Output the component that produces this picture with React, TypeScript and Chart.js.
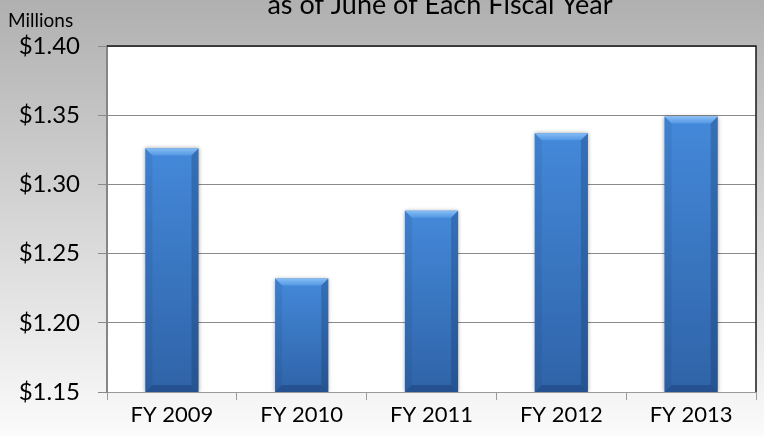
import React, { useEffect, useRef } from 'react';
import { Chart, registerables } from 'chart.js';

Chart.register(...registerables);

const categories = ['FY 2009', 'FY 2010', 'FY 2011', 'FY 2012', 'FY 2013'];
const values = [1.326, 1.232, 1.281, 1.337, 1.349];
const yMin = 1.15;
const yMax = 1.4;
const yStep = 0.05;
const titleText = 'as of June of Each Fiscal Year';
const unitLabel = 'Millions';

const FONT = 'Lato, "Open Sans", sans-serif';

const decorPlugin = {
  id: 'decor',
  beforeDraw(chart: any) {
    const { ctx, width, height, chartArea } = chart;
    ctx.save();
    const g = ctx.createLinearGradient(0, 0, 0, height);
    g.addColorStop(0, '#b0b0b0');
    g.addColorStop(1, '#fbfbfb');
    ctx.fillStyle = g;
    ctx.fillRect(0, 0, width, height);
    ctx.fillStyle = '#ffffff';
    ctx.fillRect(chartArea.left, chartArea.top, chartArea.right - chartArea.left, chartArea.bottom - chartArea.top);
    ctx.restore();
  },
  afterDatasetsDraw(chart: any) {
    const { ctx, chartArea } = chart;
    const meta = chart.getDatasetMeta(0);
    ctx.save();
    ctx.beginPath();
    ctx.rect(chartArea.left, chartArea.top - 10, chartArea.right - chartArea.left, chartArea.bottom - chartArea.top + 10);
    ctx.clip();
    meta.data.forEach((bar: any) => {
      const left = bar.x - bar.width / 2;
      const right = bar.x + bar.width / 2;
      const top = bar.y;
      const bottom = Math.min(bar.base, chartArea.bottom);
      const b = 7;
      ctx.save();
      ctx.shadowColor = 'rgba(0,0,0,0.35)';
      ctx.shadowBlur = 4;
      const body = ctx.createLinearGradient(0, top, 0, bottom);
      body.addColorStop(0, '#4489da');
      body.addColorStop(1, '#2f63a7');
      ctx.fillStyle = body;
      ctx.fillRect(left, top, right - left, bottom - top);
      ctx.restore();
      const tg = ctx.createLinearGradient(0, top, 0, top + b);
      tg.addColorStop(0, '#86bdf5');
      tg.addColorStop(1, '#5397e3');
      ctx.fillStyle = tg;
      ctx.beginPath();
      ctx.moveTo(left, top);
      ctx.lineTo(right, top);
      ctx.lineTo(right - b, top + b);
      ctx.lineTo(left + b, top + b);
      ctx.closePath();
      ctx.fill();
      ctx.fillStyle = 'rgba(15,45,95,0.28)';
      ctx.beginPath();
      ctx.moveTo(right, top);
      ctx.lineTo(right, bottom);
      ctx.lineTo(right - b, bottom - b);
      ctx.lineTo(right - b, top + b);
      ctx.closePath();
      ctx.fill();
      ctx.fillStyle = 'rgba(15,45,95,0.1)';
      ctx.beginPath();
      ctx.moveTo(left, top);
      ctx.lineTo(left + b, top + b);
      ctx.lineTo(left + b, bottom - b);
      ctx.lineTo(left, bottom);
      ctx.closePath();
      ctx.fill();
      ctx.fillStyle = 'rgba(15,40,90,0.3)';
      ctx.beginPath();
      ctx.moveTo(left, bottom);
      ctx.lineTo(left + b, bottom - b);
      ctx.lineTo(right - b, bottom - b);
      ctx.lineTo(right, bottom);
      ctx.closePath();
      ctx.fill();
    });
    ctx.restore();
  },
  afterDraw(chart: any) {
    const { ctx, chartArea } = chart;
    ctx.save();
    ctx.strokeStyle = '#1a1a1a';
    ctx.lineWidth = 1.5;
    ctx.beginPath();
    ctx.moveTo(chartArea.left, chartArea.top);
    ctx.lineTo(chartArea.right, chartArea.top);
    ctx.lineTo(chartArea.right, chartArea.bottom);
    ctx.stroke();
    ctx.fillStyle = '#000000';
    ctx.font = `27px ${FONT}`;
    ctx.textAlign = 'center';
    ctx.textBaseline = 'alphabetic';
    ctx.fillText(titleText, 440, 14);
    ctx.font = `19px ${FONT}`;
    ctx.textAlign = 'left';
    ctx.fillText(unitLabel, 8, 27);
    ctx.restore();
  },
};

export default function App() {
  const ref = useRef<HTMLCanvasElement | null>(null);
  useEffect(() => {
    document.body.style.margin = '0';
    const canvas = ref.current;
    if (!canvas) return;
    const chart = new Chart(canvas, {
      type: 'bar',
      data: {
        labels: categories,
        datasets: [
          {
            data: values,
            backgroundColor: 'rgba(0,0,0,0)',
            borderWidth: 0,
            categoryPercentage: 1,
            barPercentage: 0.41,
          },
        ],
      },
      options: {
        responsive: false,
        animation: false,
        devicePixelRatio: 1,
        layout: { padding: { top: 46, right: 8, bottom: 0, left: 0 } },
        plugins: {
          legend: { display: false },
          title: { display: false },
          tooltip: { enabled: false },
        },
        scales: {
          x: {
            grid: {
              offset: true,
              drawOnChartArea: false,
              drawTicks: true,
              tickLength: 8,
              color: '#9a9a9a',
            },
            border: { color: '#9a9a9a', width: 1 },
            ticks: {
              color: '#000000',
              font: { family: FONT, size: 22 },
              padding: 2,
            },
            afterFit: (scale: any) => {
              scale.height = 44;
            },
          },
          y: {
            min: yMin,
            max: yMax,
            grid: {
              color: '#8a8a8a',
              lineWidth: 1,
              tickLength: 9,
            },
            border: { color: '#868686', width: 2 },
            ticks: {
              stepSize: yStep,
              color: '#000000',
              font: { family: FONT, size: 24 },
              padding: 18,
              callback: (v: any) => '$' + Number(v).toFixed(2),
            },
            afterFit: (scale: any) => {
              scale.width = 107;
            },
          },
        },
      },
      plugins: [decorPlugin],
    });
    return () => chart.destroy();
  }, []);
  return (
    <div style={{ position: 'absolute', left: 0, top: 0, width: 764, height: 436 }}>
      <canvas ref={ref} width={764} height={436} />
    </div>
  );
}
